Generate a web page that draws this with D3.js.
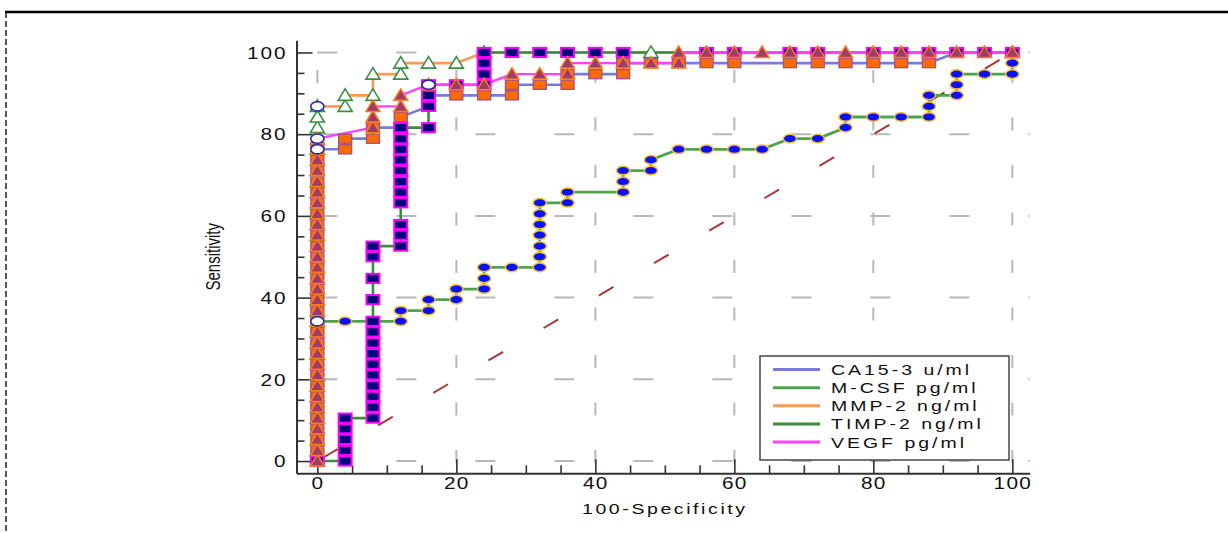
<!DOCTYPE html>
<html><head><meta charset="utf-8">
<script src="https://cdn.jsdelivr.net/npm/d3@7"></script>
<style>
body{margin:0;background:#fff;}
svg{display:block;}
text{font-family:"Liberation Sans",Arial,Helvetica,sans-serif;fill:#111;}
</style>
</head><body>
<svg id="chart" width="1228" height="533"></svg>
<script>
// ---------- data (100-Specificity %, Sensitivity %) ----------
const xTickValues = [0, 20, 40, 60, 80, 100];
const yTickValues = [0, 20, 40, 60, 80, 100];
const minorTickValues = [5, 10, 15, 25, 30, 35, 45, 50, 55, 65, 70, 75, 85, 90, 95];
const legendLabels = ["CA15-3 u/ml", "M-CSF pg/ml", "MMP-2 ng/ml", "TIMP-2 ng/ml", "VEGF pg/ml"];
const xTitle = "100-Specificity";
const yTitle = "Sensitivity";

const ca153 = [[0,0],[0,2.6],[0,5.3],[0,7.9],[0,10.5],[0,13.2],[0,15.8],[0,18.4],[0,21.1],[0,23.7],[0,26.3],[0,28.9],[0,31.6],[0,34.2],[0,36.8],[0,39.5],[0,42.1],[0,44.7],[0,47.4],[0,50],[0,52.6],[0,55.3],[0,57.9],[0,60.5],[0,63.2],[0,65.8],[0,68.4],[0,71.1],[0,73.7],[0,76.3],
  [4,76.3],[4,78.9],[8,78.9],[8,81.6],[12,81.6],[12,84.2],[16,86.8],[16,89.5],[20,89.5],[24,89.5],[28,89.5],[28,92.1],[32,92.1],[36,92.1],[36,94.7],[40,94.7],[44,94.7],[44,97.4],[48,97.4],[52,97.4],[56,97.4],[60,97.4],[68,97.4],[72,97.4],[76,97.4],[80,97.4],[84,97.4],[88,97.4],[92,100],[96,100],[100,100]];

const mcsf = [[0,0],[0,2.6],[0,5.3],[0,7.9],[0,10.5],[0,13.2],[0,15.8],[0,18.4],[0,21.1],[0,23.7],[0,26.3],[0,28.9],[0,31.6],[0,34.2],
  [4,34.2],[8,34.2],[12,34.2],[12,36.8],[16,36.8],[16,39.5],[20,39.5],[20,42.1],[24,42.1],[24,44.7],[24,47.4],[28,47.4],[32,47.4],[32,50],[32,52.6],[32,55.3],[32,57.9],[32,60.5],[32,63.2],[36,63.2],[36,65.8],[44,65.8],[44,68.4],[44,71.1],[48,71.1],[48,73.7],[52,76.3],[56,76.3],[60,76.3],[64,76.3],[68,78.9],[72,78.9],[76,81.6],[76,84.2],[80,84.2],[84,84.2],[88,84.2],[88,86.8],[88,89.5],[92,89.5],[92,92.1],[92,94.7],[96,94.7],[100,94.7],[100,97.4],[100,100]];

const mmp2 = [[0,0],[0,2.6],[0,5.3],[0,7.9],[0,10.5],[0,13.2],[0,15.8],[0,18.4],[0,21.1],[0,23.7],[0,26.3],[0,28.9],[0,31.6],[0,34.2],[0,36.8],[0,39.5],[0,42.1],[0,44.7],[0,47.4],[0,50],[0,52.6],[0,55.3],[0,57.9],[0,60.5],[0,63.2],[0,65.8],[0,68.4],[0,71.1],[0,73.7],[0,76.3],[0,78.9],[0,81.6],[0,84.2],[0,86.8],
  [4,86.8],[4,89.5],[8,89.5],[8,94.7],[12,94.7],[12,97.4],[16,97.4],[20,97.4],[24,100],[48,100],[100,100]];

const timp2 = [[0,0],[4,0],[4,2.6],[4,5.3],[4,7.9],[4,10.5],[8,10.5],[8,13.2],[8,15.8],[8,18.4],[8,21.1],[8,23.7],[8,26.3],[8,28.9],[8,31.6],[8,34.2],[8,39.5],[8,44.7],[8,50],[8,52.6],
  [12,52.6],[12,55.3],[12,57.9],[12,63.2],[12,65.8],[12,68.4],[12,71.1],[12,73.7],[12,76.3],[12,78.9],[12,81.6],[16,81.6],[16,86.8],[16,89.5],[16,92.1],[20,92.1],[24,92.1],[24,94.7],[24,97.4],[24,100],
  [28,100],[32,100],[36,100],[40,100],[44,100],[56,100],[60,100],[68,100],[72,100],[80,100],[84,100],[88,100],[92,100],[96,100],[100,100]];

const vegf = [[0,0],[0,2.6],[0,5.3],[0,7.9],[0,10.5],[0,13.2],[0,15.8],[0,18.4],[0,21.1],[0,23.7],[0,26.3],[0,28.9],[0,31.6],[0,34.2],[0,36.8],[0,39.5],[0,42.1],[0,44.7],[0,47.4],[0,50],[0,52.6],[0,55.3],[0,57.9],[0,60.5],[0,63.2],[0,65.8],[0,68.4],[0,71.1],[0,73.7],[0,76.3],[0,78.9],
  [8,81.6],[8,84.2],[8,86.8],[12,86.8],[12,89.5],[16,92.1],[20,92.1],[24,92.1],[28,94.7],[32,94.7],[36,94.7],[36,97.4],[40,97.4],[44,97.4],[48,97.4],[52,97.4],[52,100],[56,100],[60,100],[64,100],[68,100],[72,100],[76,100],[80,100],[84,100],[88,100],[92,100],[96,100],[100,100]];

const optimalPoints = [[0,76.3],[0,78.9],[0,86.8],[16,92.1],[0,34.2]];
const diagonal = [[0,0],[100,100]];

// ---------- setup ----------
const svg = d3.select("#chart");
const x = d3.scaleLinear().domain([-3, 102.5]).range([296.5, 1029.7]);
const y = d3.scaleLinear().domain([-3, 103]).range([473.3, 40.2]);

// frame
svg.append("line").attr("x1",5).attr("x2",1228).attr("y1",12).attr("y2",12).attr("stroke","#000").attr("stroke-width",2.5);
svg.append("line").attr("x1",6).attr("x2",6).attr("y1",12).attr("y2",533).attr("stroke","#000").attr("stroke-width",1.3).attr("stroke-dasharray","6,3");

// grid
const grid = svg.append("g");
grid.selectAll(".hg").data(yTickValues).enter().append("line")
  .attr("x1", x(0)).attr("x2", x(102.5)).attr("y1", d=>y(d)).attr("y2", d=>y(d))
  .attr("stroke","#b8b8b8").attr("stroke-width",2).attr("stroke-dasharray","20,59");
grid.selectAll(".vg").data(xTickValues).enter().append("line")
  .attr("x1", d=>x(d)).attr("x2", d=>x(d)).attr("y1", y(100)).attr("y2", y(-3))
  .attr("stroke","#b8b8b8").attr("stroke-width",2).attr("stroke-dasharray","13,34.5").attr("stroke-dashoffset",30);

// axes
function styleAxis(g){
  g.selectAll("path.domain").attr("stroke","#333").attr("stroke-width",2);
  g.selectAll(".tick line").attr("stroke","#333").attr("stroke-width",1.6);
}
const yAxis = svg.append("g").attr("transform",`translate(${x(-3)},0)`)
  .call(d3.axisLeft(y).tickValues(yTickValues).tickSize(-16).tickSizeOuter(0).tickPadding(9));
yAxis.call(styleAxis);
yAxis.selectAll(".tick text").attr("x",null).attr("dy","0.36em")
  .attr("transform","translate(-9,0) scale(1.3,1)").style("font-size","16px").style("letter-spacing","1.5px").attr("fill","#111");
svg.append("g").attr("transform",`translate(${x(-3)},0)`)
  .call(d3.axisLeft(y).tickValues(minorTickValues).tickSize(-8).tickSizeOuter(0).tickFormat(""))
  .call(g=>{g.select("path.domain").remove(); g.selectAll(".tick line").attr("stroke","#333").attr("stroke-width",1.6);});

const xAxis = svg.append("g").attr("transform",`translate(0,${y(-3)})`)
  .call(d3.axisBottom(x).tickValues(xTickValues).tickSize(-14).tickSizeOuter(0).tickPadding(10));
xAxis.call(styleAxis);
xAxis.selectAll(".tick text").attr("y",null).attr("dy",null)
  .attr("transform","translate(0,16) scale(1.3,1)").style("font-size","16px").style("letter-spacing","1px").attr("fill","#111");
svg.append("g").attr("transform",`translate(0,${y(-3)})`)
  .call(d3.axisBottom(x).tickValues(minorTickValues).tickSize(-8).tickSizeOuter(0).tickFormat(""))
  .call(g=>{g.select("path.domain").remove(); g.selectAll(".tick line").attr("stroke","#333").attr("stroke-width",1.6);});

// axis titles
svg.append("text").text(xTitle).attr("text-anchor","middle")
  .attr("transform",`translate(${x(50)},514) scale(1.3,1)`).style("font-size","15px").style("letter-spacing","2px");
svg.append("text").text(yTitle).attr("text-anchor","middle")
  .attr("transform",`translate(220,${y(50)}) rotate(-90) scale(1,1.3)`).style("font-size","15px");

// diagonal reference
const line = d3.line().x(d=>x(d[0])).y(d=>y(d[1]));
svg.append("path").attr("d", line(diagonal)).attr("fill","none")
  .attr("stroke","#a83838").attr("stroke-width",2).attr("stroke-dasharray","17,47").attr("stroke-dashoffset",57.5);

// series lines
const seriesLines = [
  {data: mmp2, color:"#ff9955", w:2.6},
  {data: ca153, color:"#7a7ad8", w:2.6},
  {data: mcsf, color:"#4fa34f", w:2.8},
  {data: timp2, color:"#3a8c3a", w:2.6},
  {data: vegf, color:"#ff40ff", w:2.4}
];
seriesLines.forEach(s=>{
  svg.append("path").attr("d", line(s.data)).attr("fill","none")
    .attr("stroke", s.color).attr("stroke-width", s.w).attr("stroke-linejoin","round");
});

// markers
const triPath = "M0,-6.5L7,5L-7,5Z";
// MMP-2 hollow triangles
svg.append("g").selectAll("path").data(mmp2).enter().append("path")
  .attr("d", triPath).attr("transform", d=>`translate(${x(d[0])},${y(d[1])})`)
  .attr("fill","#fff").attr("stroke","#3a9040").attr("stroke-width",1.6);
// M-CSF ellipses
svg.append("g").selectAll("ellipse").data(mcsf).enter().append("ellipse")
  .attr("cx", d=>x(d[0])).attr("cy", d=>y(d[1])).attr("rx",6.6).attr("ry",4.3)
  .attr("fill","#0a10ff").attr("stroke","#f2c030").attr("stroke-width",1.5);
// CA15-3 orange squares
svg.append("g").selectAll("rect").data(ca153).enter().append("rect")
  .attr("x", d=>x(d[0])-6.5).attr("y", d=>y(d[1])-4.6).attr("width",13).attr("height",9.2)
  .attr("fill","#ff6a00").attr("stroke","#a0508a").attr("stroke-width",1.3);
// TIMP-2 navy squares
svg.append("g").selectAll("rect").data(timp2).enter().append("rect")
  .attr("x", d=>x(d[0])-6.5).attr("y", d=>y(d[1])-4.6).attr("width",13).attr("height",9.2)
  .attr("fill","#00007a").attr("stroke","#ff00ff").attr("stroke-width",2);
// VEGF filled triangles
svg.append("g").selectAll("path").data(vegf).enter().append("path")
  .attr("d", triPath).attr("transform", d=>`translate(${x(d[0])},${y(d[1])})`)
  .attr("fill","#9c3c68").attr("stroke","#ff7a18").attr("stroke-width",1.5);
// optimal criterion points
svg.append("g").selectAll("ellipse").data(optimalPoints).enter().append("ellipse")
  .attr("cx", d=>x(d[0])).attr("cy", d=>y(d[1])).attr("rx",6.6).attr("ry",4.6)
  .attr("fill","#fff").attr("stroke","#2828a8").attr("stroke-width",1.6);

// legend
const legendColors = ["#7a7ad8","#4fa34f","#ff9955","#3a8c3a","#ff40ff"];
const lg = svg.append("g");
lg.append("rect").attr("x",760).attr("y",356).attr("width",249).attr("height",104)
  .attr("fill","#fff").attr("stroke","#444").attr("stroke-width",1.5);
const ly = d3.scalePoint().domain(legendLabels).range([369.5, 442]);
legendLabels.forEach((lab,i)=>{
  lg.append("line").attr("x1",773).attr("x2",820).attr("y1",ly(lab)).attr("y2",ly(lab))
    .attr("stroke",legendColors[i]).attr("stroke-width",3);
  lg.append("text").text(lab).attr("transform",`translate(831,${ly(lab)+5.5}) scale(1.3,1)`)
    .style("font-size","15px").style("letter-spacing","2.3px");
});
</script>
</body></html>
